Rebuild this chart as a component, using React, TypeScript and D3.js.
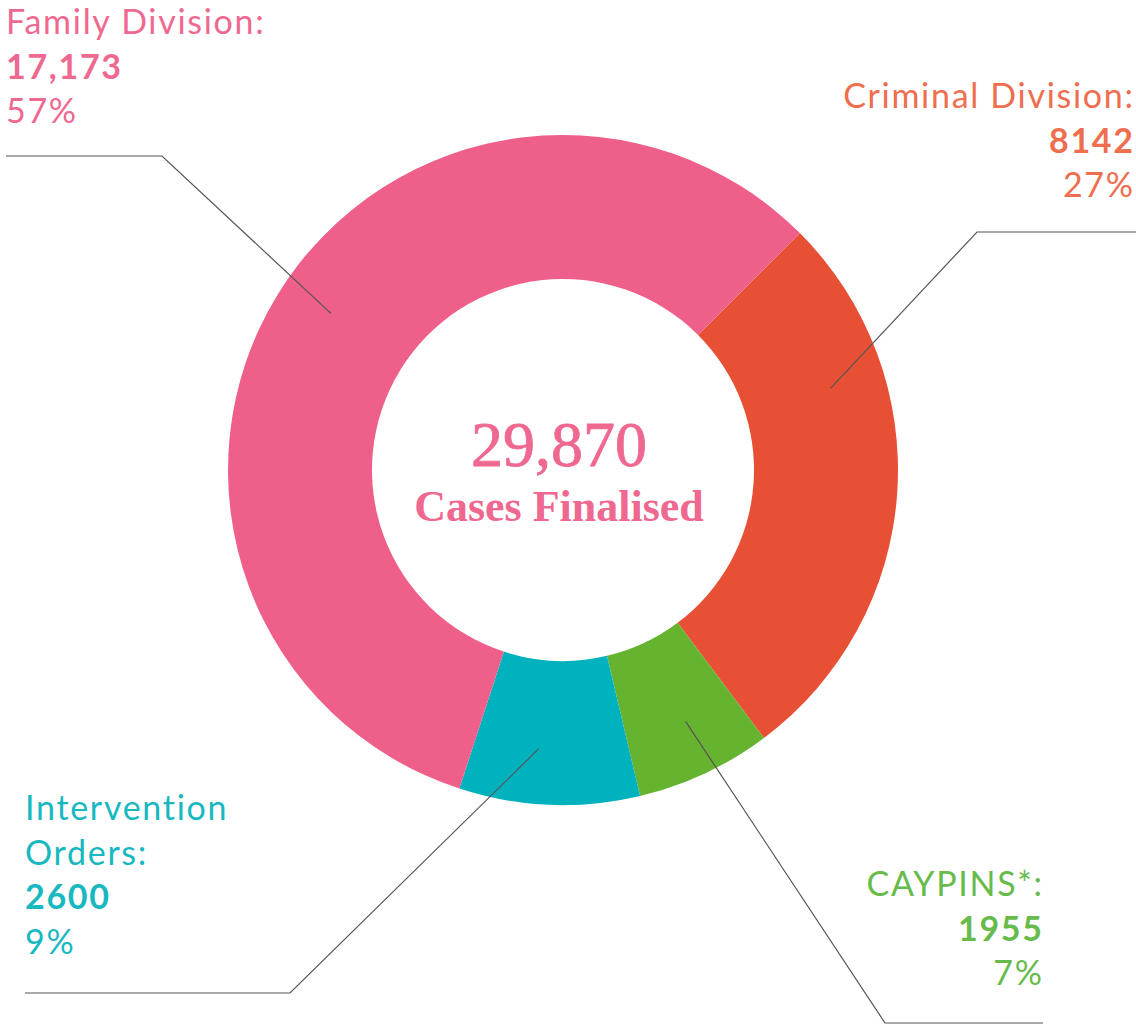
import React from 'react'
import * as d3 from 'd3'

const categories = ['Criminal Division:', 'CAYPINS*:', 'Intervention Orders:', 'Family Division:']
const values = [8142, 1955, 2600, 17173]
const valueLabels = ['8142', '1955', '2600', '17,173']
const percents = ['27%', '7%', '9%', '57%']
const sliceColors = ['#E85035', '#66B32F', '#00B2BD', '#EE5F8A']
const textColors = ['#EE6E4E', '#66BB4A', '#17B8C0', '#EF6890']
const totalLabel = '29,870'
const centerLabel = 'Cases Finalised'

const WIDTH = 1136
const HEIGHT = 1027
const CX = 563
const CY = 470
const OUTER = 335
const INNER = 191
const LEAD_R = 280

// per-label layout: leader start angle (deg), elbow, line end, text anchor
const layout = [
  { angle: 73, elbow: [977, 232], end: 1136, tx: 1133, ty: 108, anchor: 'end', lines: ['Criminal Division:'] },
  { angle: 154, elbow: [885, 1023], end: 1043, tx: 1042, ty: 896, anchor: 'end', lines: ['CAYPINS*:'] },
  { angle: 185, elbow: [290, 993], end: 25, tx: 25, ty: 820, anchor: 'start', lines: ['Intervention', 'Orders:'] },
  { angle: 304, elbow: [162, 156], end: 6, tx: 6, ty: 34, anchor: 'start', lines: ['Family Division:'] },
]

const LINE_H = 44.5
const SANS = 'Lato, "Noto Sans", sans-serif'
const SERIF = '"Liberation Serif", "DejaVu Serif", serif'

export default function App() {
  const pie = d3
    .pie<number>()
    .sort(null)
    .startAngle(Math.PI / 4)
    .endAngle(Math.PI / 4 + 2 * Math.PI)
  const arcs = pie(values)
  const arc = d3.arc<d3.PieArcDatum<number>>().innerRadius(INNER).outerRadius(OUTER)

  return (
    <svg
      width={WIDTH}
      height={HEIGHT}
      style={{ position: 'absolute', left: 0, top: 0, background: '#fff' }}
    >
      <g transform={`translate(${CX},${CY})`}>
        {arcs.map((a, i) => (
          <path key={i} d={arc(a) || ''} fill={sliceColors[i]} />
        ))}
      </g>

      {layout.map((l, i) => {
        const rad = (l.angle * Math.PI) / 180
        const sx = CX + LEAD_R * Math.sin(rad)
        const sy = CY - LEAD_R * Math.cos(rad)
        const pts = `${sx},${sy} ${l.elbow[0]},${l.elbow[1]} ${l.end},${l.elbow[1]}`
        return <polyline key={i} points={pts} fill="none" stroke="#555" strokeWidth={1.2} />
      })}

      {layout.map((l, i) => {
        const n = l.lines.length
        // letter spacing adds trailing space after last glyph; shift end-anchored text
        const x = l.anchor === 'end' ? l.tx + 1.7 : l.tx
        return (
          <text
            key={i}
            x={x}
            y={l.ty}
            textAnchor={l.anchor}
            fill={textColors[i]}
            fontFamily={SANS}
            fontSize={34}
            letterSpacing={1.7}
          >
            {l.lines.map((t, j) => (
              <tspan key={j} x={x} y={l.ty + j * LINE_H} fontWeight={400}>
                {t}
              </tspan>
            ))}
            <tspan x={x} y={l.ty + n * LINE_H} fontWeight={700}>
              {valueLabels[i]}
            </tspan>
            <tspan x={x} y={l.ty + (n + 1) * LINE_H} fontWeight={400}>
              {percents[i]}
            </tspan>
          </text>
        )
      })}

      <text
        x={559}
        y={466}
        textAnchor="middle"
        fill="#EF6890"
        stroke="#EF6890"
        strokeWidth={0.8}
        fontFamily={SERIF}
        fontSize={64}
      >
        {totalLabel}
      </text>
      <text
        x={559}
        y={521}
        textAnchor="middle"
        fill="#EF6890"
        fontFamily={SERIF}
        fontSize={44}
        fontWeight={700}
      >
        {centerLabel}
      </text>
    </svg>
  )
}
